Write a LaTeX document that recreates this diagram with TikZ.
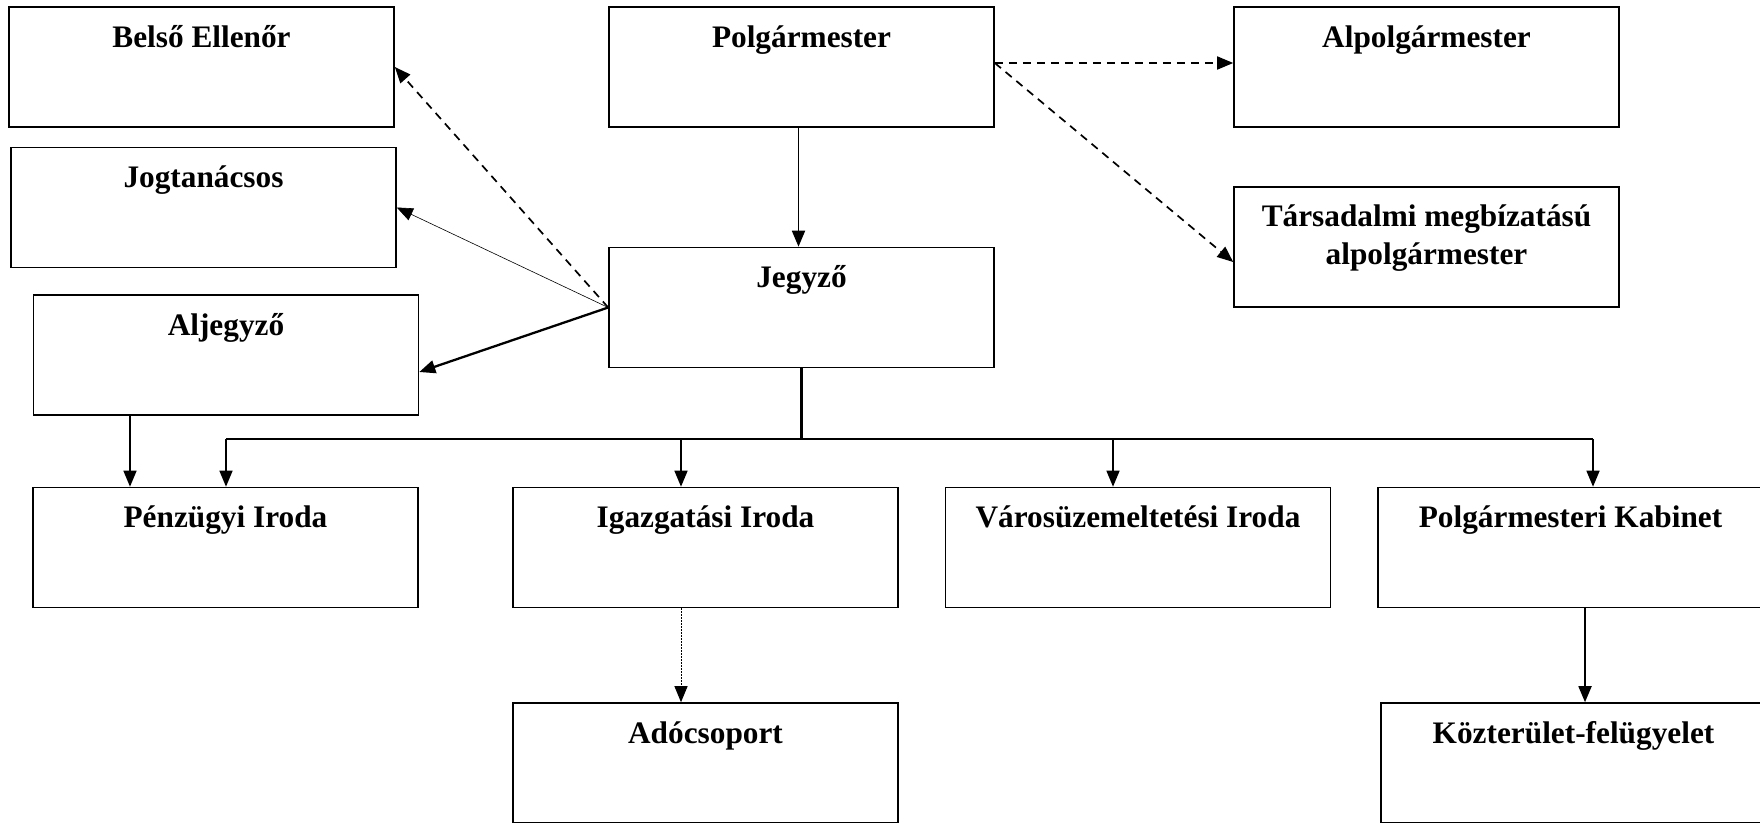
\documentclass[tikz,border=0pt]{standalone}
\usepackage{fontspec}
\setmainfont{Liberation Serif}
\usetikzlibrary{arrows.meta}
\begin{document}
\begin{tikzpicture}[x=1pt,y=-1pt,
  box/.style={draw, line width=1.6pt, minimum width=385pt, minimum height=120pt, inner sep=0pt},
  ttlfont/.style={font=\fontsize{31.3}{38}\selectfont\bfseries, inner sep=0pt},
  ttl/.style={ttlfont, anchor=base, yshift=-41pt},
  ttltwo/.style={ttlfont, anchor=north, yshift=-18pt, align=center},
  tip/.style={-{Triangle[length=16pt,width=13pt]}},
  mainarrow/.style={tip, line width=1.8pt},
  busline/.style={line width=2.3pt},
  droparrow/.style={tip, line width=1.5pt},
  thinarrow/.style={tip, line width=0.6pt},
  thickarrow/.style={tip, line width=2.3pt},
  dasharrow/.style={tip, line width=1.7pt, dash pattern=on 8pt off 6pt},
  dotarrow/.style={tip, line width=1pt, dash pattern=on 1.5pt off 1.5pt}]
\useasboundingbox (0,0) rectangle (1760,822);
\clip (0,0) rectangle (1760,822);
% boxes
\node[box, label={[ttl]north:Belső Ellenőr}] (belso) at (201.5,67) {};
\node[box, label={[ttl]north:Jogtanácsos}] (jog) at (203.5,207.5) {};
\node[box, label={[ttl]north:Aljegyző}] (alj) at (226,355) {};
\node[box, label={[ttl]north:Polgármester}] (polg) at (801.5,67) {};
\node[box, label={[ttl]north:Jegyző}] (jeg) at (801.5,307.5) {};
\node[box, label={[ttl]north:Alpolgármester}] (alpolg) at (1426.5,67) {};
\node[box, label={[ttltwo]north:Társadalmi megbízatású\\alpolgármester}] (tars) at (1426.5,247) {};
\node[box, label={[ttl]north:Pénzügyi Iroda}] (penz) at (225.5,547.5) {};
\node[box, label={[ttl]north:Igazgatási Iroda}] (igaz) at (705.5,547.5) {};
\node[box, label={[ttl]north:Városüzemeltetési Iroda}] (varos) at (1138,547.5) {};
\node[box, label={[ttl]north:Polgármesteri Kabinet}] (kab) at (1570.5,547.5) {};
\node[box, label={[ttl]north:Adócsoport}] (ado) at (705.5,763) {};
\node[box, label={[ttl]north:Közterület-felügyelet}] (kozt) at (1573.5,763) {};
% top connectors
\draw[mainarrow] ([xshift=-3pt]polg.south) -- ([xshift=-3pt]jeg.north);
\draw[dasharrow] ([yshift=4pt]polg.east) -- ([yshift=4pt]alpolg.west);
\draw[dasharrow] ([yshift=4pt]polg.east) -- ([yshift=-15pt]tars.west);
\draw[dasharrow] (jeg.west) -- (belso.east);
\draw[thinarrow] (jeg.west) -- (jog.east);
\draw[thickarrow] (jeg.west) -- ([yshift=-17pt]alj.east);
% bus
\coordinate (busL) at (226,439);
\coordinate (busR) at (1593,439);
\coordinate (bI) at (681,439);
\coordinate (bV) at (1113,439);
\draw[busline] (jeg.south) -- (jeg.south |- busL);
\draw[busline] (busL) -- (busR);
\draw[droparrow] (busL) -- (busL |- penz.north);
\draw[droparrow] (bI) -- (bI |- igaz.north);
\draw[droparrow] (bV) -- (bV |- varos.north);
\draw[droparrow] (busR) -- (busR |- kab.north);
% lower connectors
\coordinate (aP) at (130,0);
\draw[droparrow] (aP |- alj.south) -- (aP |- penz.north);
\draw[dotarrow] (bI |- igaz.south) -- (bI |- ado.north);
\coordinate (kK) at (1585,0);
\draw[mainarrow] (kK |- kab.south) -- (kK |- kozt.north);
\end{tikzpicture}
\end{document}
